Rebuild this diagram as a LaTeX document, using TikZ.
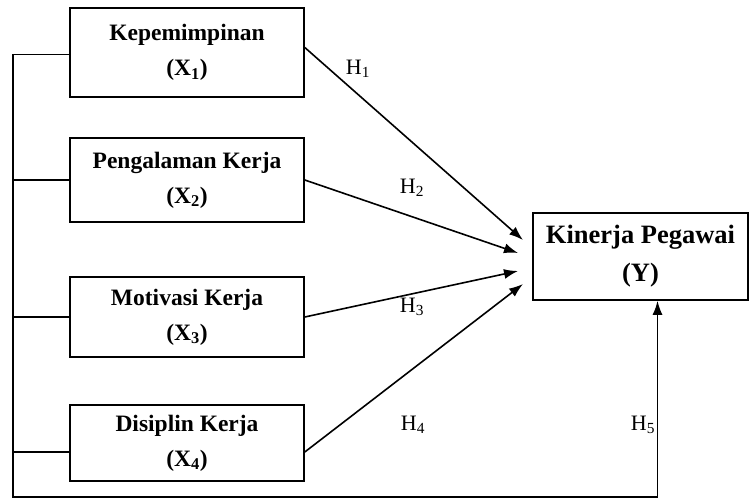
\documentclass[tikz,border=0pt]{standalone}
\usepackage{fontspec}
\setmainfont{Liberation Serif}
\usetikzlibrary{arrows.meta}

\begin{document}
\begin{tikzpicture}[x=1pt, y=-1pt, line width=1.6pt, >={Latex[length=14pt,width=10pt]},
    varbox/.style={draw, align=center, minimum width=234pt, inner sep=0pt,
        font=\fontsize{23.5}{35}\selectfont\bfseries},
    hlabel/.style={font=\fontsize{22}{24}\selectfont}]
            \useasboundingbox (0,0) rectangle (752,500);
            \node[varbox, minimum height=89pt] (x1) at (187,52.5) {Kepemimpinan\\(X\textsubscript{1})};
            \node[varbox, minimum height=84pt] (x2) at (187,180) {Pengalaman Kerja\\(X\textsubscript{2})};
            \node[varbox, minimum height=80pt] (x3) at (187,317) {Motivasi Kerja\\(X\textsubscript{3})};
            \node[varbox, minimum height=76pt] (x4) at (187,443) {Disiplin Kerja\\(X\textsubscript{4})};
            \node[draw, align=center, minimum width=215pt, minimum height=87pt, inner sep=0pt,
                font=\fontsize{26.5}{38}\selectfont\bfseries] (y) at (640.5,256.5) {Kinerja Pegawai\\(Y)};
            \coordinate (corner) at (13,497);
            \coordinate (t1) at (523,240);
            \coordinate (t2) at (518,253);
            \coordinate (t3) at (518,271);
            \coordinate (t4) at (523,284);
            \draw[->] ([yshift=-2pt]x1.west) -| (corner) -| ([xshift=17pt]y.south);
            \draw (x2.west) -- (x2.west -| corner);
            \draw (x3.west) -- (x3.west -| corner);
            \draw ([yshift=-9pt]x4.west) -- ([yshift=-9pt]x4.west -| corner);
            \draw[->] ([yshift=5pt]x1.east) -- (t1);
            \draw[->] (x2.east) -- (t2);
            \draw[->] (x3.east) -- (t3);
            \draw[->] ([yshift=-9pt]x4.east) -- (t4);
            \node[hlabel] (h1) at (358,69) {H\textsubscript{1}};
            \node[hlabel] (h2) at (412,188) {H\textsubscript{2}};
            \node[hlabel] (h3) at (412,307) {H\textsubscript{3}};
            \node[hlabel] (h4) at (413,425) {H\textsubscript{4}};
            \node[hlabel] (h5) at (643,425) {H\textsubscript{5}};
        \end{tikzpicture}
\end{document}
